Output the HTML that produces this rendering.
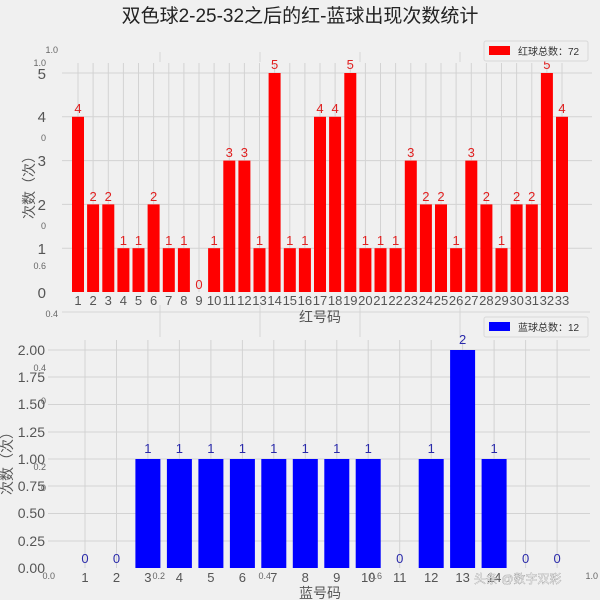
<!DOCTYPE html>
<html><head><meta charset="utf-8"><style>
html,body{margin:0;padding:0;background:#f0f0f0}
svg{display:block;font-family:"Liberation Sans","Noto Sans CJK SC",sans-serif}
</style></head><body>
<svg width="600" height="600" viewBox="0 0 600 600">
<rect width="600" height="600" fill="#f0f0f0"/>
<text x="300" y="22" font-size="19" text-anchor="middle" fill="#222">双色球2-25-32之后的红-蓝球出现次数统计</text>
<!-- background spurious axes -->
<g stroke="#d6d6d6" stroke-width="1">
<line x1="160" y1="52" x2="160" y2="62"/><line x1="260" y1="52" x2="260" y2="62"/><line x1="360" y1="52" x2="360" y2="62"/><line x1="460" y1="52" x2="460" y2="62"/>
<line x1="62" y1="312" x2="590" y2="312"/>
<line x1="160" y1="305" x2="160" y2="337"/><line x1="260" y1="305" x2="260" y2="337"/><line x1="360" y1="305" x2="360" y2="337"/><line x1="460" y1="305" x2="460" y2="337"/>
</g>
<g font-size="9" fill="#666" text-anchor="end">
<text x="58" y="53">1.0</text><text x="46" y="66">1.0</text><text x="46" y="141">0</text><text x="46" y="229">0</text><text x="46" y="269">0.6</text><text x="58" y="317">0.4</text>
<text x="46" y="371">0.4</text><text x="46" y="404">0</text><text x="46" y="470">0.2</text><text x="46" y="491">0</text>
<text x="55" y="579">0.0</text><text x="165" y="579">0.2</text><text x="271" y="579">0.4</text><text x="382" y="579">0.6</text><text x="598" y="579">1.0</text>
</g>
<!-- TOP chart grid -->
<g stroke="#d3d3d3" stroke-width="1">
<line x1="62" y1="73" x2="592" y2="73"/><line x1="62" y1="116.8" x2="592" y2="116.8"/><line x1="62" y1="160.6" x2="592" y2="160.6"/><line x1="62" y1="204.4" x2="592" y2="204.4"/><line x1="62" y1="248.2" x2="592" y2="248.2"/>
<line x1="78" y1="63" x2="78" y2="292"/><line x1="93.1" y1="63" x2="93.1" y2="292"/><line x1="108.3" y1="63" x2="108.3" y2="292"/><line x1="123.4" y1="63" x2="123.4" y2="292"/><line x1="138.5" y1="63" x2="138.5" y2="292"/><line x1="153.6" y1="63" x2="153.6" y2="292"/><line x1="168.8" y1="63" x2="168.8" y2="292"/><line x1="183.9" y1="63" x2="183.9" y2="292"/><line x1="199" y1="63" x2="199" y2="292"/><line x1="214.1" y1="63" x2="214.1" y2="292"/><line x1="229.3" y1="63" x2="229.3" y2="292"/><line x1="244.4" y1="63" x2="244.4" y2="292"/><line x1="259.5" y1="63" x2="259.5" y2="292"/><line x1="274.6" y1="63" x2="274.6" y2="292"/><line x1="289.8" y1="63" x2="289.8" y2="292"/><line x1="304.9" y1="63" x2="304.9" y2="292"/><line x1="320" y1="63" x2="320" y2="292"/><line x1="335.1" y1="63" x2="335.1" y2="292"/><line x1="350.3" y1="63" x2="350.3" y2="292"/><line x1="365.4" y1="63" x2="365.4" y2="292"/><line x1="380.5" y1="63" x2="380.5" y2="292"/><line x1="395.6" y1="63" x2="395.6" y2="292"/><line x1="410.8" y1="63" x2="410.8" y2="292"/><line x1="425.9" y1="63" x2="425.9" y2="292"/><line x1="441" y1="63" x2="441" y2="292"/><line x1="456.1" y1="63" x2="456.1" y2="292"/><line x1="471.3" y1="63" x2="471.3" y2="292"/><line x1="486.4" y1="63" x2="486.4" y2="292"/><line x1="501.5" y1="63" x2="501.5" y2="292"/><line x1="516.6" y1="63" x2="516.6" y2="292"/><line x1="531.8" y1="63" x2="531.8" y2="292"/><line x1="546.9" y1="63" x2="546.9" y2="292"/><line x1="562" y1="63" x2="562" y2="292"/>
</g>
<g fill="#ff0000">
<rect x="72" y="116.8" width="12" height="175.2"/><rect x="87.1" y="204.4" width="12" height="87.6"/><rect x="102.3" y="204.4" width="12" height="87.6"/><rect x="117.4" y="248.2" width="12" height="43.8"/><rect x="132.5" y="248.2" width="12" height="43.8"/><rect x="147.6" y="204.4" width="12" height="87.6"/><rect x="162.8" y="248.2" width="12" height="43.8"/><rect x="177.9" y="248.2" width="12" height="43.8"/><rect x="208.1" y="248.2" width="12" height="43.8"/><rect x="223.3" y="160.6" width="12" height="131.4"/><rect x="238.4" y="160.6" width="12" height="131.4"/><rect x="253.5" y="248.2" width="12" height="43.8"/><rect x="268.6" y="73" width="12" height="219"/><rect x="283.8" y="248.2" width="12" height="43.8"/><rect x="298.9" y="248.2" width="12" height="43.8"/><rect x="314" y="116.8" width="12" height="175.2"/><rect x="329.1" y="116.8" width="12" height="175.2"/><rect x="344.3" y="73" width="12" height="219"/><rect x="359.4" y="248.2" width="12" height="43.8"/><rect x="374.5" y="248.2" width="12" height="43.8"/><rect x="389.6" y="248.2" width="12" height="43.8"/><rect x="404.8" y="160.6" width="12" height="131.4"/><rect x="419.9" y="204.4" width="12" height="87.6"/><rect x="435" y="204.4" width="12" height="87.6"/><rect x="450.1" y="248.2" width="12" height="43.8"/><rect x="465.3" y="160.6" width="12" height="131.4"/><rect x="480.4" y="204.4" width="12" height="87.6"/><rect x="495.5" y="248.2" width="12" height="43.8"/><rect x="510.6" y="204.4" width="12" height="87.6"/><rect x="525.8" y="204.4" width="12" height="87.6"/><rect x="540.9" y="73" width="12" height="219"/><rect x="556" y="116.8" width="12" height="175.2"/>
</g>
<g fill="#e02020" font-size="13" text-anchor="middle">
<text x="78" y="113">4</text><text x="93.1" y="201">2</text><text x="108.3" y="201">2</text><text x="123.4" y="245">1</text><text x="138.5" y="245">1</text><text x="153.6" y="201">2</text><text x="168.8" y="245">1</text><text x="183.9" y="245">1</text><text x="199" y="289">0</text><text x="214.1" y="245">1</text><text x="229.3" y="157">3</text><text x="244.4" y="157">3</text><text x="259.5" y="245">1</text><text x="274.6" y="69">5</text><text x="289.8" y="245">1</text><text x="304.9" y="245">1</text><text x="320" y="113">4</text><text x="335.1" y="113">4</text><text x="350.3" y="69">5</text><text x="365.4" y="245">1</text><text x="380.5" y="245">1</text><text x="395.6" y="245">1</text><text x="410.8" y="157">3</text><text x="425.9" y="201">2</text><text x="441" y="201">2</text><text x="456.1" y="245">1</text><text x="471.3" y="157">3</text><text x="486.4" y="201">2</text><text x="501.5" y="245">1</text><text x="516.6" y="201">2</text><text x="531.8" y="201">2</text><text x="546.9" y="69">5</text><text x="562" y="113">4</text>
</g>
<g fill="#555" font-size="13" text-anchor="middle">
<text x="78" y="305">1</text><text x="93.1" y="305">2</text><text x="108.3" y="305">3</text><text x="123.4" y="305">4</text><text x="138.5" y="305">5</text><text x="153.6" y="305">6</text><text x="168.8" y="305">7</text><text x="183.9" y="305">8</text><text x="199" y="305">9</text><text x="214.1" y="305">10</text><text x="229.3" y="305">11</text><text x="244.4" y="305">12</text><text x="259.5" y="305">13</text><text x="274.6" y="305">14</text><text x="289.8" y="305">15</text><text x="304.9" y="305">16</text><text x="320" y="305">17</text><text x="335.1" y="305">18</text><text x="350.3" y="305">19</text><text x="365.4" y="305">20</text><text x="380.5" y="305">21</text><text x="395.6" y="305">22</text><text x="410.8" y="305">23</text><text x="425.9" y="305">24</text><text x="441" y="305">25</text><text x="456.1" y="305">26</text><text x="471.3" y="305">27</text><text x="486.4" y="305">28</text><text x="501.5" y="305">29</text><text x="516.6" y="305">30</text><text x="531.8" y="305">31</text><text x="546.9" y="305">32</text><text x="562" y="305">33</text>
</g>
<text x="320" y="322" font-size="14" fill="#555" text-anchor="middle">红号码</text>
<g fill="#555" font-size="15" text-anchor="end">
<text x="46" y="298">0</text><text x="46" y="254">1</text><text x="46" y="210">2</text><text x="46" y="166">3</text><text x="46" y="122">4</text><text x="46" y="79">5</text>
</g>
<text transform="translate(34,184) rotate(-90)" font-size="14" fill="#555" text-anchor="middle">次数（次）</text>
<rect x="484" y="41" width="104" height="20" fill="#f0f0f0" stroke="#d8d8d8" rx="2"/>
<rect x="489" y="46" width="21" height="9" fill="#ff0000"/>
<text x="518" y="55" font-size="10" fill="#333">红球总数：72</text>
<!-- BOTTOM chart -->
<g stroke="#d3d3d3" stroke-width="1">
<line x1="48" y1="350" x2="590" y2="350"/><line x1="48" y1="377" x2="590" y2="377"/><line x1="48" y1="404.5" x2="590" y2="404.5"/><line x1="48" y1="432" x2="590" y2="432"/><line x1="48" y1="459" x2="590" y2="459"/><line x1="48" y1="486" x2="590" y2="486"/><line x1="48" y1="513.5" x2="590" y2="513.5"/><line x1="48" y1="541" x2="590" y2="541"/>
<line x1="85" y1="340" x2="85" y2="568"/><line x1="116.5" y1="340" x2="116.5" y2="568"/><line x1="147.9" y1="340" x2="147.9" y2="568"/><line x1="179.4" y1="340" x2="179.4" y2="568"/><line x1="210.9" y1="340" x2="210.9" y2="568"/><line x1="242.4" y1="340" x2="242.4" y2="568"/><line x1="273.8" y1="340" x2="273.8" y2="568"/><line x1="305.3" y1="340" x2="305.3" y2="568"/><line x1="336.8" y1="340" x2="336.8" y2="568"/><line x1="368.2" y1="340" x2="368.2" y2="568"/><line x1="399.7" y1="340" x2="399.7" y2="568"/><line x1="431.2" y1="340" x2="431.2" y2="568"/><line x1="462.6" y1="340" x2="462.6" y2="568"/><line x1="494.1" y1="340" x2="494.1" y2="568"/><line x1="525.6" y1="340" x2="525.6" y2="568"/><line x1="557.1" y1="340" x2="557.1" y2="568"/>
</g>
<g fill="#0000ff">
<rect x="135.4" y="459" width="25" height="109"/><rect x="166.9" y="459" width="25" height="109"/><rect x="198.4" y="459" width="25" height="109"/><rect x="229.9" y="459" width="25" height="109"/><rect x="261.3" y="459" width="25" height="109"/><rect x="292.8" y="459" width="25" height="109"/><rect x="324.3" y="459" width="25" height="109"/><rect x="355.7" y="459" width="25" height="109"/><rect x="418.7" y="459" width="25" height="109"/><rect x="450.1" y="350" width="25" height="218"/><rect x="481.6" y="459" width="25" height="109"/>
</g>
<g fill="#2a2aaa" font-size="13" text-anchor="middle">
<text x="85" y="563">0</text><text x="116.5" y="563">0</text><text x="147.9" y="453">1</text><text x="179.4" y="453">1</text><text x="210.9" y="453">1</text><text x="242.4" y="453">1</text><text x="273.8" y="453">1</text><text x="305.3" y="453">1</text><text x="336.8" y="453">1</text><text x="368.2" y="453">1</text><text x="399.7" y="563">0</text><text x="431.2" y="453">1</text><text x="462.6" y="344">2</text><text x="494.1" y="453">1</text><text x="525.6" y="563">0</text><text x="557.1" y="563">0</text>
</g>
<g fill="#555" font-size="13" text-anchor="middle">
<text x="85" y="582">1</text><text x="116.5" y="582">2</text><text x="147.9" y="582">3</text><text x="179.4" y="582">4</text><text x="210.9" y="582">5</text><text x="242.4" y="582">6</text><text x="273.8" y="582">7</text><text x="305.3" y="582">8</text><text x="336.8" y="582">9</text><text x="368.2" y="582">10</text><text x="399.7" y="582">11</text><text x="431.2" y="582">12</text><text x="462.6" y="582">13</text><text x="494.1" y="582">14</text>
</g>
<text x="320" y="598" font-size="14" fill="#555" text-anchor="middle">蓝号码</text>
<g fill="#555" font-size="14" text-anchor="end">
<text x="45" y="573">0.00</text><text x="45" y="546">0.25</text><text x="45" y="518">0.50</text><text x="45" y="491">0.75</text><text x="45" y="464">1.00</text><text x="45" y="437">1.25</text><text x="45" y="409">1.50</text><text x="45" y="382">1.75</text><text x="45" y="355">2.00</text>
</g>
<text transform="translate(12,460) rotate(-90)" font-size="14" fill="#555" text-anchor="middle">次数（次）</text>
<rect x="484" y="317" width="104" height="20" fill="#f0f0f0" stroke="#d8d8d8" rx="2"/>
<rect x="489" y="322" width="21" height="9" fill="#0000ff"/>
<text x="518" y="331" font-size="10" fill="#333">蓝球总数：12</text>
<text x="474" y="583" font-size="12" fill="#fff" stroke="#888" stroke-width="0.3">头条 @数字双彩</text>
</svg>
</body></html>
